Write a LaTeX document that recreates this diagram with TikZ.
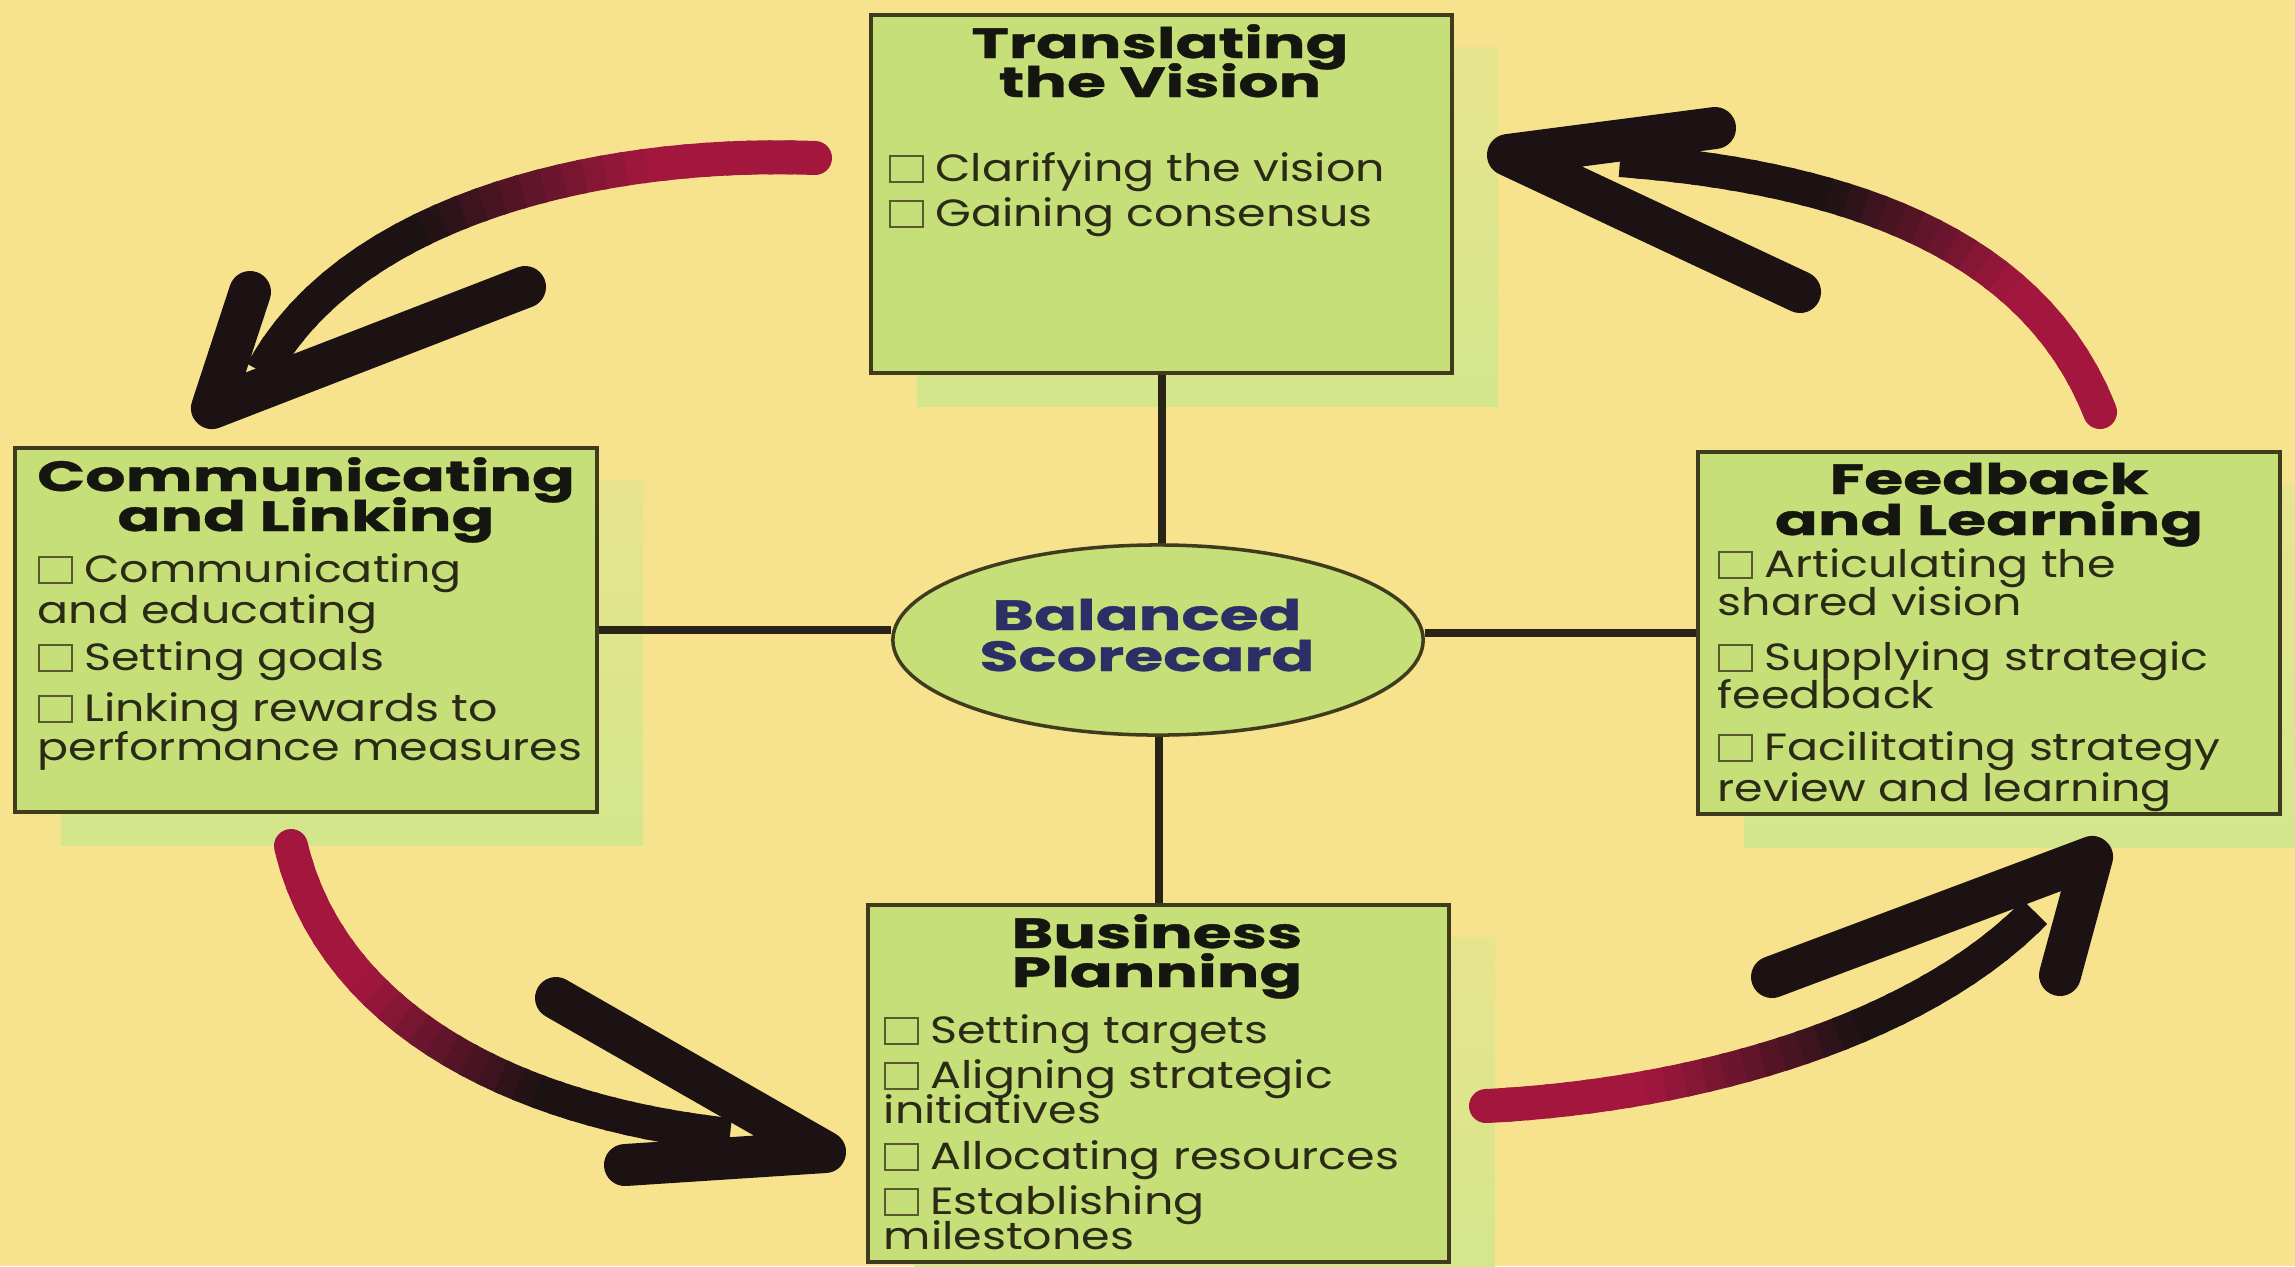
\documentclass[tikz,border=0pt]{standalone}
\usepackage{fontspec}
\setmainfont{Poppins}
\newfontfamily\ttlfont{Poppins}[FakeStretch=1.5, FakeBold=0.8]
\newfontfamily\itmfont{Poppins}[FakeStretch=1.21]
\usetikzlibrary{shadows,shapes.geometric}
\definecolor{bgyel}{HTML}{F7E38E}
\definecolor{boxgreen}{HTML}{C6DF78}
\definecolor{shgreen}{HTML}{D3E68C}
\definecolor{boxline}{HTML}{3E3C1C}
\definecolor{conn}{HTML}{2A2416}
\definecolor{ttlcol}{HTML}{161610}
\definecolor{itmcol}{HTML}{2A2A16}
\definecolor{navy}{HTML}{2C2F66}
\definecolor{crim}{HTML}{A3173F}
\definecolor{ink}{HTML}{1C1214}
\definecolor{cbcol}{HTML}{5A5A2E}
\newcommand\cbx{{\color{cbcol}\setlength{\fboxsep}{0pt}\setlength{\fboxrule}{0.7pt}\fbox{\rule{0pt}{0.62em}\hspace{0.8em}}}\hspace{0.3em}}
\newcommand\gradstroke[2]{%
  \foreach \k in {0,...,29}{%
    \pgfmathsetmacro\mixv{max(0,min(100,100*(0.62-\k/30)/0.37))}%
    \pgfmathsetmacro\segl{#2/30+1.5}%
    \ifnum\k=29 \def\segl{300}\fi
    \pgfmathsetmacro\ph{\segl+1000-\k*#2/30}%
    \ifnum\k=0 \def\capk{round}\else\def\capk{butt}\fi
    \draw[use path=#1, line width=0.34cm, line cap=\capk, draw=crim!\mixv!ink,
          dash pattern=on \segl pt off 1000pt, dash phase=\ph pt];
  }%
}
\tikzset{
 box/.style={draw=boxline, line width=1.2pt, fill=boxgreen, rectangle, inner sep=0pt,
   general shadow={top color=bgyel!55!shgreen, bottom color=shgreen, shadow xshift=0.46cm, shadow yshift=-0.33cm}},
 ttl/.style={font=\ttlfont\bfseries\fontsize{12}{12}\selectfont, text=ttlcol, anchor=base, inner sep=0pt},
 itm/.style={font=\itmfont\fontsize{10.8}{11}\selectfont, text=itmcol, anchor=base west, inner sep=0pt},
 conline/.style={draw=conn, line width=0.08cm},
 headstroke/.style={draw=ink, line width=0.42cm, line cap=round, line join=round},
}
\begin{document}
\begin{tikzpicture}[x=0.01cm, y=-0.01cm]
\useasboundingbox (0,0) rectangle (2295,1266);
\fill[bgyel] (0,0) rectangle (2295,1266);

% boxes
\node[box, minimum width=5.81cm, minimum height=3.58cm] (vis) at (1161.5,194) {};
\node[box, minimum width=5.82cm, minimum height=3.64cm] (com) at (306,630) {};
\node[box, minimum width=5.82cm, minimum height=3.62cm] (fee) at (1989,633) {};
\node[box, minimum width=5.81cm, minimum height=3.57cm] (bus) at (1158.5,1083.5) {};
\node[draw=boxline, line width=1pt, fill=boxgreen, ellipse, inner sep=0pt,
      minimum width=5.3cm, minimum height=1.9cm] (bsc) at (1158,640) {};

% connectors
\draw[conline] (vis.south) -- (vis.south |- bsc.north);
\draw[conline] (bus.north) -- (bus.north |- bsc.south);
\draw[conline] (com.east) -- (com.east -| bsc.west);
\draw[conline] (fee.west) -- (fee.west -| bsc.east);

% arrow coordinates
\coordinate (tlT) at (815,158);   \coordinate (tlE) at (262,372);
\coordinate (tlTip) at (212,408); \coordinate (tlS) at (250,292); \coordinate (tlB) at (525,287);
\coordinate (trT) at (2100,412);  \coordinate (trE) at (1620,160);
\coordinate (trTip) at (1508,155); \coordinate (trS) at (1715,128); \coordinate (trB) at (1800,292);
\coordinate (blT) at (291,846);   \coordinate (blE) at (730,1135);
\coordinate (blTip) at (825,1152); \coordinate (blS) at (625,1165); \coordinate (blB) at (556,998);
\coordinate (brT) at (1486,1106); \coordinate (brE) at (2035,912);
\coordinate (brTip) at (2092,857); \coordinate (brS) at (2060,975); \coordinate (brB) at (1772,977);

\path[save path=\pTL] (tlT) .. controls (600,150) and (350,210) .. (tlE);
\path[save path=\pTR] (trT) .. controls (2040,260) and (1880,180) .. (trE);
\path[save path=\pBL] (blT) .. controls (330,1010) and (500,1110) .. (blE);
\path[save path=\pBR] (brT) .. controls (1700,1095) and (1920,1030) .. (brE);

\gradstroke{\pTL}{180}
\gradstroke{\pTR}{162}
\gradstroke{\pBL}{162}
\gradstroke{\pBR}{171}

\draw[headstroke] (tlS) -- (tlTip) -- (tlB);
\draw[headstroke] (trS) -- (trTip) -- (trB);
\draw[headstroke] (blS) -- (blTip) -- (blB);
\draw[headstroke] (brS) -- (brTip) -- (brB);

% titles
\node[ttl] (vis-t1) at (1160,58) {Translating};
\node[ttl] (vis-t2) at (1160,97) {the Vision};
\node[ttl] (com-t1) at (306,491) {Communicating};
\node[ttl] (com-t2) at (306,531) {and Linking};
\node[ttl] (fee-t1) at (1989,494) {Feedback};
\node[ttl] (fee-t2) at (1989,535) {and Learning};
\node[ttl] (bus-t1) at (1157,948) {Business};
\node[ttl] (bus-t2) at (1157,987) {Planning};
\node[ttl, text=navy] (bsc-t1) at (1147,630) {Balanced};
\node[ttl, text=navy] (bsc-t2) at (1147,671) {Scorecard};

% items
\node[itm] (vis-i1) at (888,181) {\cbx Clarifying the vision};
\node[itm] (vis-i2) at (888,226) {\cbx Gaining consensus};

\node[itm] (com-i1) at (37,582) {\cbx Communicating};
\node[itm] (com-i1b) at (37,623) {and educating};
\node[itm] (com-i2) at (37,670) {\cbx Setting goals};
\node[itm] (com-i3) at (37,721) {\cbx Linking rewards to};
\node[itm] (com-i3b) at (37,760) {performance measures};

\node[itm] (fee-i1) at (1717,577) {\cbx Articulating the};
\node[itm] (fee-i1b) at (1717,615) {shared vision};
\node[itm] (fee-i2) at (1717,670) {\cbx Supplying strategic};
\node[itm] (fee-i2b) at (1717,708) {feedback};
\node[itm] (fee-i3) at (1717,760) {\cbx Facilitating strategy};
\node[itm] (fee-i3b) at (1717,801) {review and learning};

\node[itm] (bus-i1) at (883,1043) {\cbx Setting targets};
\node[itm] (bus-i2) at (883,1088) {\cbx Aligning strategic};
\node[itm] (bus-i2b) at (883,1123) {initiatives};
\node[itm] (bus-i3) at (883,1169) {\cbx Allocating resources};
\node[itm] (bus-i4) at (883,1214) {\cbx Establishing};
\node[itm] (bus-i4b) at (883,1249) {milestones};
\end{tikzpicture}
\end{document}
